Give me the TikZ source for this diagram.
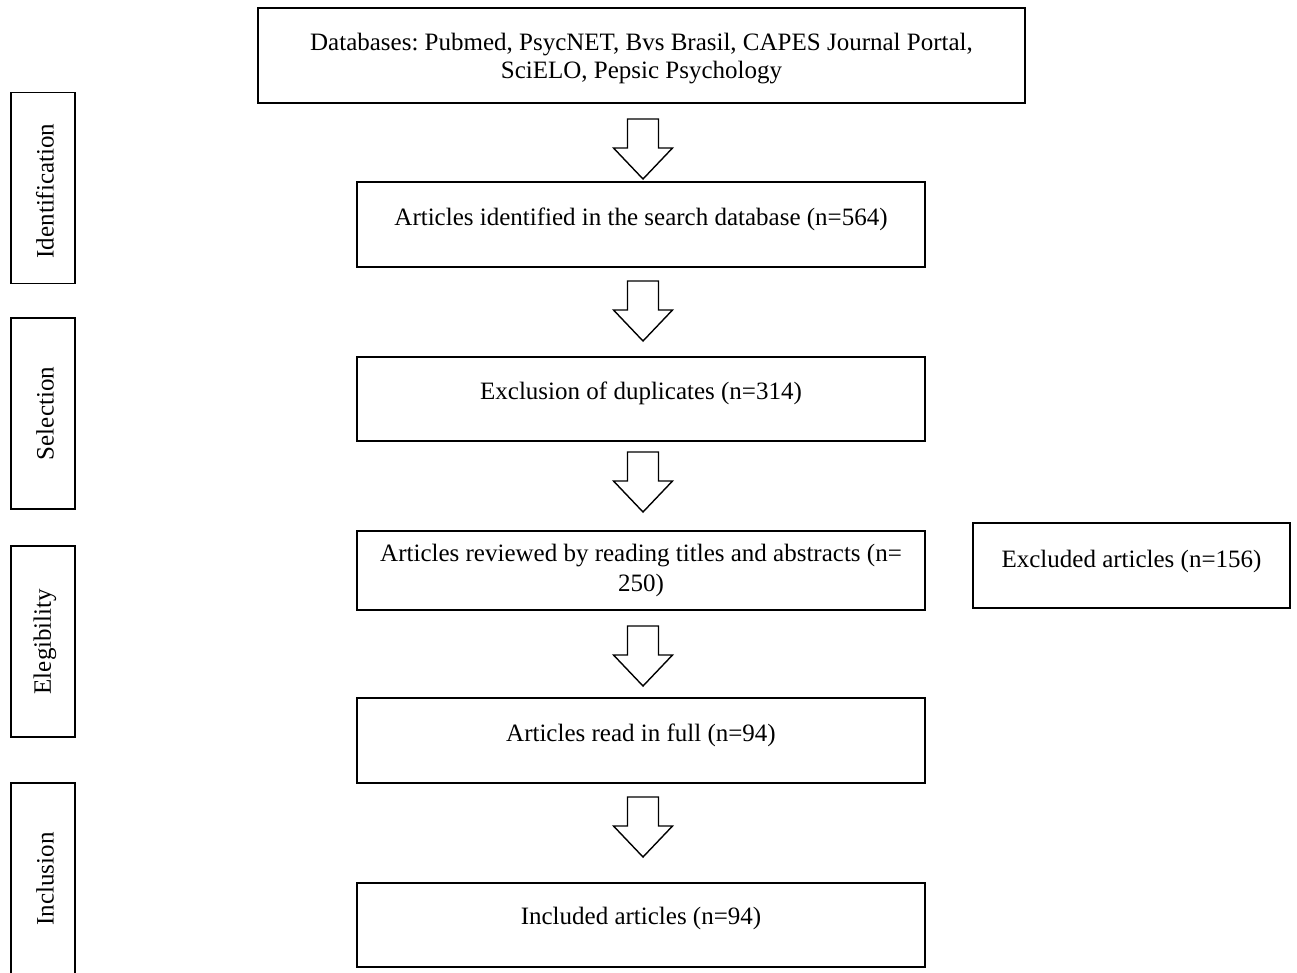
\documentclass[tikz,border=0pt]{standalone}
\usepackage{fontspec}
\setmainfont{Liberation Serif}
\frenchspacing
\begin{document}
\begin{tikzpicture}[x=1pt,y=-1pt,
  box/.style={draw,line width=1.9pt,inner sep=0pt,align=center,font=\fontsize{25}{29}\selectfont},
  side/.style={draw,line width=1.9pt,inner sep=0pt,minimum width=64pt,minimum height=191pt},
  lbl/.style={font=\fontsize{25}{29}\selectfont,rotate=90,inner sep=0pt},
  pics/downarrow/.style={code={
    \draw[line width=1.4pt,line join=miter]
      (-15.5,0) -- (15.5,0) -- (15.5,29) -- (29.5,29) -- (0,60) -- (-29.5,29) -- (-15.5,29) -- cycle;}}]
\useasboundingbox (0,0) rectangle (1297,972);
\fill[white] (0,0) rectangle (1297,972);

% main boxes
\node[box,minimum width=767pt,minimum height=95pt,
  label={[font=\fontsize{25}{28}\selectfont,align=center,yshift=-3pt]center:{Databases: Pubmed, PsycNET, Bvs Brasil, CAPES Journal Portal,\\SciELO, Pepsic Psychology}}]
  (db) at (641.5,55.5) {};
\node[box,minimum width=568pt,minimum height=85pt] (ident) at (641,224.5)
  {\raisebox{16pt}{Articles identified in the search database (n=564)}};
\node[box,minimum width=568pt,minimum height=84pt] (dup) at (641,399)
  {\raisebox{16pt}{Exclusion of duplicates (n=314)}};
\node[box,minimum width=568pt,minimum height=79pt,font=\fontsize{25}{30}\selectfont] (rev) at (641,570.5)
  {Articles reviewed by reading titles and abstracts (n=\\250)};
\node[box,minimum width=568pt,minimum height=85pt] (full) at (641,740.5)
  {\raisebox{16pt}{Articles read in full (n=94)}};
\node[box,minimum width=568pt,minimum height=84pt] (incl) at (641,925)
  {\raisebox{18pt}{Included articles (n=94)}};
\node[box,minimum width=317pt,minimum height=85pt] (excl) at (1131.5,565.5)
  {\raisebox{14pt}{Excluded articles (n=156)}};

% block arrows
\pic at (643,119) {downarrow};
\pic at (643,281) {downarrow};
\pic at (643,452) {downarrow};
\pic at (643,626) {downarrow};
\pic at (643,797) {downarrow};

% side labels
\node[side] (sIdent) at (43,188) {};
\node[lbl] at (45,191) {Identification};
\node[side] (sSel) at (43,413.5) {};
\node[lbl] at (45,413.5) {Selection};
\node[side] (sElig) at (43,641.5) {};
\node[lbl] at (45,641.5) {Elegibility};
\node[inner sep=0pt,minimum width=64pt,minimum height=191pt] (sIncl) at (43,878.5) {};
\node[lbl] at (45,879) {Inclusion};
\draw[line width=1.9pt] (sIncl.south west) -- (sIncl.north west) -- (sIncl.north east) -- (sIncl.south east);
\end{tikzpicture}
\end{document}
